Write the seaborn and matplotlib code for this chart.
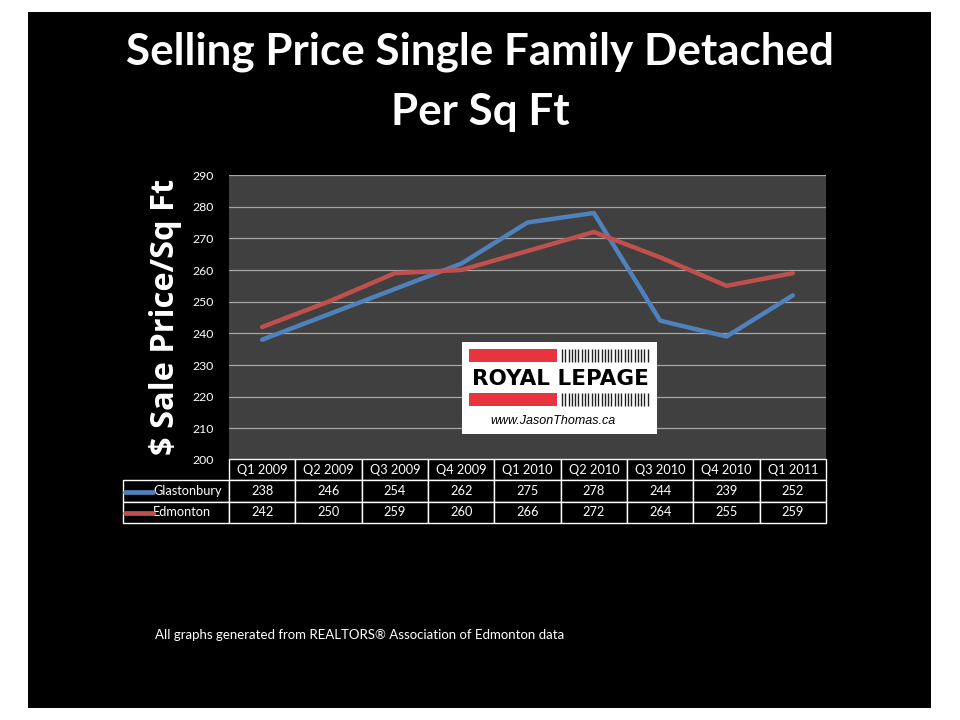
import numpy as np
import pandas as pd
import matplotlib
matplotlib.use("Agg")
import matplotlib.pyplot as plt
from matplotlib.patches import Rectangle
import seaborn as sns

# data
quarters = ["Q1 2009", "Q2 2009", "Q3 2009", "Q4 2009", "Q1 2010",
            "Q2 2010", "Q3 2010", "Q4 2010", "Q1 2011"]
glastonbury = [238, 246, 254, 262, 275, 278, 244, 239, 252]
edmonton = [242, 250, 259, 260, 266, 272, 264, 255, 259]
series_names = ["Glastonbury", "Edmonton"]
colors = ["#4F81BD", "#C0504D"]
y_ticks = [200, 210, 220, 230, 240, 250, 260, 270, 280, 290]

sns.set_theme(style="dark")
plt.rcParams["font.family"] = ["Lato", "DejaVu Sans"]

W, H = 960, 720
fig = plt.figure(figsize=(9.6, 7.2), dpi=100, facecolor="white")

def fx(px):
    return px / W

def fy(py):
    return 1 - py / H

# black slide background
fig.patches.append(Rectangle((fx(28), fy(708)), fx(931) - fx(28), fy(12) - fy(708),
                             transform=fig.transFigure, facecolor="black",
                             edgecolor="none", zorder=-10))

# title
fig.text(0.5, fy(52), "Selling Price Single Family Detached", color="white",
         fontsize=31.7, fontweight="bold", ha="center", va="center")
fig.text(0.5, fy(112), "Per Sq Ft", color="white",
         fontsize=31.7, fontweight="bold", ha="center", va="center")

# main plot area
ax_l, ax_r, ax_t, ax_b = 229, 826, 175, 460
ax = fig.add_axes([fx(ax_l), fy(ax_b), fx(ax_r) - fx(ax_l), fy(ax_t) - fy(ax_b)])
ax.set_facecolor("#404040")

df = pd.DataFrame({
    "x": list(range(len(quarters))) * 2,
    "value": glastonbury + edmonton,
    "series": [series_names[0]] * len(quarters) + [series_names[1]] * len(quarters),
})
sns.lineplot(data=df, x="x", y="value", hue="series", palette=colors,
             linewidth=3.2, ax=ax, legend=False, zorder=3)

ax.set_xlim(-0.5, len(quarters) - 0.5)
ax.set_ylim(200, 290)
ax.set_yticks(y_ticks)
ax.set_yticklabels([str(t) for t in y_ticks], color="white", fontsize=8.8)
ax.set_xticks([])
ax.tick_params(axis="y", length=0, pad=11)
ax.grid(axis="y", color="#A6A6A6", linewidth=0.9)
ax.grid(axis="x", visible=False)
ax.set_xlabel("")
ax.set_ylabel("")
for s in ax.spines.values():
    s.set_visible(False)

fig.text(fx(166), fy(317), "$ Sale Price/Sq Ft", color="white", fontsize=23.5,
         fontweight="bold", rotation=90, ha="center", va="center",
         family=["Open Sans", "DejaVu Sans"])

# data table beneath the plot
tbl_l, tbl_top, tbl_bot = 123, 459, 523
label_w = ax_l - tbl_l
col_w = (ax_r - ax_l) / len(quarters)
total_w = ax_r - tbl_l
cell_text = [[""] + quarters,
             [series_names[0]] + [str(v) for v in glastonbury],
             [series_names[1]] + [str(v) for v in edmonton]]
col_widths = [label_w / total_w] + [col_w / total_w] * len(quarters)
tbl = ax.table(cellText=cell_text, colWidths=col_widths, cellLoc="center",
               bbox=[(tbl_l - ax_l) / (ax_r - ax_l), (ax_b - tbl_bot) / (ax_b - ax_t),
                     total_w / (ax_r - ax_l), (tbl_bot - tbl_top) / (ax_b - ax_t)])
tbl.auto_set_font_size(False)
for (r, c), cell in tbl.get_celld().items():
    cell.set_facecolor("black")
    cell.set_edgecolor("white")
    cell.set_linewidth(1.0)
    cell.get_text().set_color("white")
    cell.get_text().set_fontsize(9.2)
    if c == 0:
        cell.PAD = (153 - tbl_l) / label_w
        cell.get_text().set_horizontalalignment("left")
        cell._loc = "left"
    if r == 0 and c == 0:
        cell.visible_edges = ""
        cell.set_facecolor("none")

# legend keys inside the row label cells
for i, name in enumerate(series_names):
    yc = fy(491.5 + i * 21)
    fig.lines.append(plt.Line2D([fx(125), fx(153)], [yc, yc], color=colors[i],
                                linewidth=3.4, solid_capstyle="round",
                                transform=fig.transFigure))

# Royal LePage logo box
lg = fig.add_axes([fx(462), fy(434), fx(657) - fx(462), fy(342) - fy(434)])
lg.set_xlim(462, 657)
lg.set_ylim(434, 342)
lg.set_facecolor("white")
lg.set_xticks([])
lg.set_yticks([])
for s in lg.spines.values():
    s.set_visible(False)
red = "#E8343F"
for y0 in (349, 393):
    lg.add_patch(Rectangle((469, y0), 88, 13, facecolor=red, edgecolor="none"))
    bars = np.arange(562, 651, 3.3)
    lg.vlines(bars, y0, y0 + 13, color="#222222", linewidth=1.0)
lg.text(560, 379, "ROYAL LEPAGE", fontsize=15.5, fontweight="bold",
        color="black", ha="center", va="center", family=["DejaVu Sans"])
lg.text(553, 421, "www.JasonThomas.ca", fontsize=9, style="italic",
        color="black", ha="center", va="center", family=["Liberation Sans"])

# footer
fig.text(fx(155), fy(635), "All graphs generated from REALTORS\u00ae Association of Edmonton data",
         color="white", fontsize=9.5, ha="left", va="center")

fig.savefig("out.png", dpi=100, facecolor="white")
